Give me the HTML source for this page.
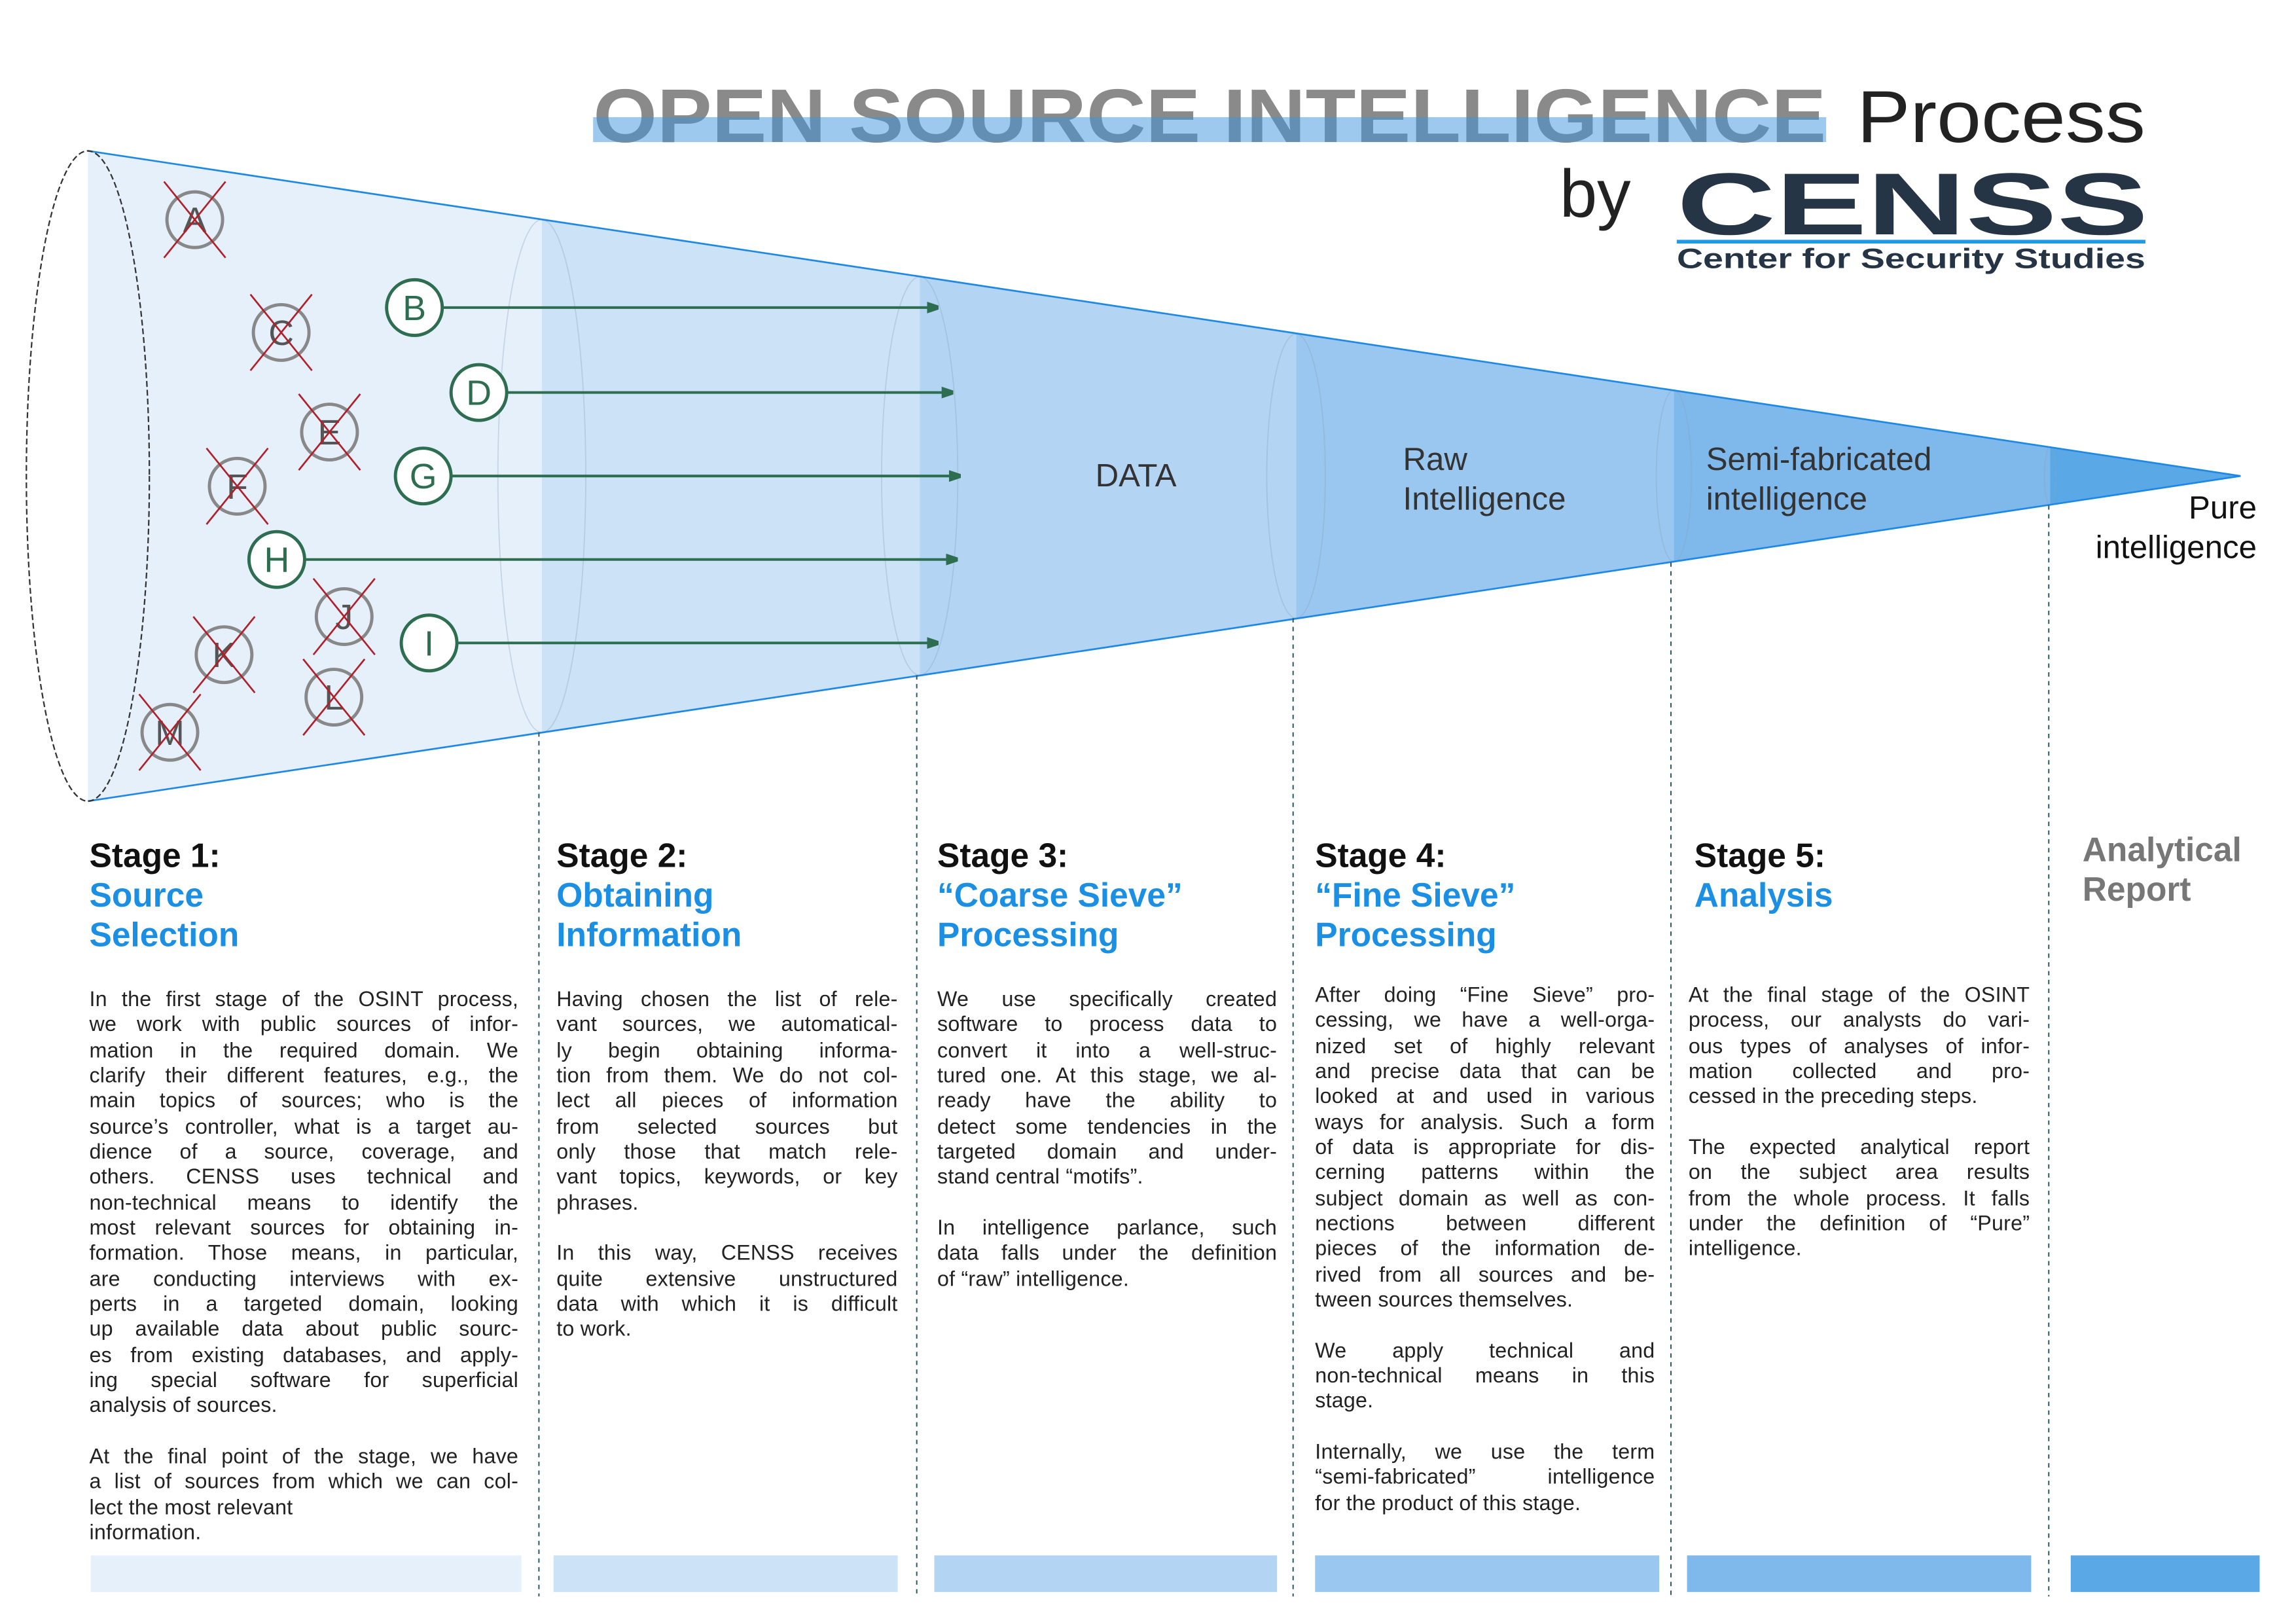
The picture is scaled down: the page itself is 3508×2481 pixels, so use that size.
<!DOCTYPE html>
<html><head><meta charset="utf-8"><style>
html,body{margin:0;padding:0;background:#fff;}
body{width:3508px;height:2480px;overflow:hidden;position:relative;}
.s{position:absolute;left:0;top:0;width:1568px;height:1109px;transform:scale(2.2375);transform-origin:0 0;}
svg{position:absolute;left:0;top:0;}
.col{position:absolute;font-family:"Liberation Sans",sans-serif;}
.h{font-weight:bold;font-size:23px;line-height:27px;color:#111;}
.h .b{color:#1a8fe3;}
.t{font-size:14.4px;line-height:17.33px;color:#222;letter-spacing:0.1px;}
.t div{white-space:nowrap;overflow:visible;}
.t .j{text-align:justify;text-align-last:justify;}
.gap{height:17.33px;}
.bar{position:absolute;top:1062px;height:25px;}
</style></head><body><div class="s">
<svg width="1560" height="1103" viewBox="0 0 1560 1103" xmlns="http://www.w3.org/2000/svg">
<defs><marker id="ar" markerWidth="8" markerHeight="8" refX="7" refY="4" orient="auto" markerUnits="userSpaceOnUse"><path d="M0,0 L12,4 L0,8 z" fill="#2e6e50"/></marker></defs>
<text x="405" y="97" font-family="Liberation Sans,sans-serif" font-weight="bold" font-size="52" fill="#8a8a8a" textLength="842" lengthAdjust="spacingAndGlyphs">OPEN SOURCE INTELLIGENCE</text>
<rect x="405" y="80" width="842" height="17" fill="#3d94e0" opacity="0.5"/>
<text x="1268" y="97" font-family="Liberation Sans,sans-serif" font-size="50" fill="#222" textLength="197" lengthAdjust="spacingAndGlyphs">Process</text>
<text x="1065" y="148" font-family="Liberation Sans,sans-serif" font-size="46" fill="#222">by</text>
<text x="1145" y="160" font-family="Liberation Sans,sans-serif" font-weight="bold" font-size="60" fill="#263545" textLength="322" lengthAdjust="spacingAndGlyphs">CENSS</text>
<line x1="1145" y1="165" x2="1465" y2="165" stroke="#1e9be8" stroke-width="2.5"/>
<text x="1145" y="183" font-family="Liberation Sans,sans-serif" font-weight="bold" font-size="19" fill="#263545" textLength="320" lengthAdjust="spacingAndGlyphs">Center for Security Studies</text>
<polygon points="60,103 370,150 370,500 60,547" fill="#e6f0fb"/>
<polygon points="370,150 628,189 628,461 370,500" fill="#cce2f6"/>
<polygon points="628,189 885,228 885,422 628,461" fill="#b3d4f2"/>
<polygon points="885,228 1143,266.5 1143,383.5 885,422" fill="#99c7ef"/>
<polygon points="1143,266.5 1400,305 1400,345 1143,383.5" fill="#7fb8ea"/>
<polygon points="1400,305 1530,325 1400,345" fill="#5aa8e6"/>
<g fill="none" stroke="#8aa4bc" stroke-opacity="0.35" stroke-width="0.8">
<ellipse cx="370" cy="325" rx="30" ry="175"/>
<ellipse cx="628" cy="325" rx="26" ry="136"/>
<ellipse cx="885" cy="325" rx="20" ry="97"/>
<ellipse cx="1143" cy="325" rx="12" ry="58.5"/>
<ellipse cx="1400" cy="325" rx="4" ry="20"/>
</g>
<line x1="60" y1="103" x2="1530" y2="325" stroke="#1e88e5" stroke-width="1.2"/>
<line x1="60" y1="547" x2="1530" y2="325" stroke="#1e88e5" stroke-width="1.2"/>
<ellipse cx="60" cy="325" rx="42" ry="222" fill="none" stroke="#333" stroke-width="1" stroke-dasharray="4,2"/>
<g stroke="#2a5a6a" stroke-width="0.9" stroke-dasharray="3,3">
<line x1="368" y1="500" x2="368" y2="1090"/>
<line x1="626" y1="461" x2="626" y2="1090"/>
<line x1="883" y1="422" x2="883" y2="1090"/>
<line x1="1141" y1="384" x2="1141" y2="1090"/>
<line x1="1399" y1="345" x2="1399" y2="1090"/>
</g>
<g font-family="Liberation Sans,sans-serif" font-size="22" fill="#333">
<text x="748" y="332">DATA</text>
<text x="958" y="321">Raw</text><text x="958" y="348">Intelligence</text>
<text x="1165" y="321">Semi-fabricated</text><text x="1165" y="348">intelligence</text>
<text x="1541" y="354" text-anchor="end" fill="#111">Pure</text><text x="1541" y="381" text-anchor="end" fill="#111">intelligence</text>
</g>
<g stroke="#2e6e50" stroke-width="1.8" marker-end="url(#ar)">
<line x1="302" y1="210" x2="640" y2="210"/>
<line x1="346" y1="268" x2="650" y2="268"/>
<line x1="308" y1="325" x2="655" y2="325"/>
<line x1="208" y1="382" x2="653" y2="382"/>
<line x1="312" y1="439" x2="640" y2="439"/>
</g>
<g font-family="Liberation Sans,sans-serif" font-size="24" text-anchor="middle">
<g fill="#fff" stroke="#2e6e50" stroke-width="2.2">
<circle cx="283" cy="210" r="19"/><circle cx="327" cy="268" r="19"/><circle cx="289" cy="325" r="19"/><circle cx="189" cy="382" r="19"/><circle cx="293" cy="439" r="19"/>
</g>
<g fill="#2e6e50">
<text x="283" y="218.5">B</text><text x="327" y="276.5">D</text><text x="289" y="333.5">G</text><text x="189" y="390.5">H</text><text x="293" y="447.5">I</text>
</g>
<g fill="none" stroke="#888" stroke-width="2.2">
<circle cx="133" cy="150" r="19"/><circle cx="192" cy="227" r="19"/><circle cx="225" cy="295" r="19"/><circle cx="162" cy="332" r="19"/><circle cx="235" cy="421" r="19"/><circle cx="153" cy="447" r="19"/><circle cx="228" cy="476" r="19"/><circle cx="116" cy="500" r="19"/>
</g>
<g fill="#555">
<text x="133" y="158.5">A</text><text x="192" y="235.5">C</text><text x="225" y="303.5">E</text><text x="162" y="340.5">F</text><text x="235" y="429.5">J</text><text x="153" y="455.5">K</text><text x="228" y="484.5">L</text><text x="116" y="508.5">M</text>
</g>
<g stroke="#b0202a" stroke-width="1.2">
<path d="M112,124 L154,176 M154,124 L112,176"/>
<path d="M171,201 L213,253 M213,201 L171,253"/>
<path d="M204,269 L246,321 M246,269 L204,321"/>
<path d="M141,306 L183,358 M183,306 L141,358"/>
<path d="M214,395 L256,447 M256,395 L214,447"/>
<path d="M132,421 L174,473 M174,421 L132,473"/>
<path d="M207,450 L249,502 M249,450 L207,502"/>
<path d="M95,474 L137,526 M137,474 L95,526"/>
</g>
</g>
</svg>

<div class="col h" style="left:61px;top:571px;">Stage 1:<br><span class="b">Source<br>Selection</span></div>
<div class="col h" style="left:380px;top:571px;">Stage 2:<br><span class="b">Obtaining<br>Information</span></div>
<div class="col h" style="left:640px;top:571px;">Stage 3:<br><span class="b">“Coarse Sieve”<br>Processing</span></div>
<div class="col h" style="left:898px;top:571px;">Stage 4:<br><span class="b">“Fine Sieve”<br>Processing</span></div>
<div class="col h" style="left:1157px;top:571px;">Stage 5:<br><span class="b">Analysis</span></div>
<div class="col h" style="left:1422px;top:567px;color:#777;">Analytical<br>Report</div>

<div class="col t" style="left:61px;top:675px;width:293px;">
<div class="j">In the first stage of the OSINT process,</div>
<div class="j">we work with public sources of infor-</div>
<div class="j">mation in the required domain. We</div>
<div class="j">clarify their different features, e.g., the</div>
<div class="j">main topics of sources; who is the</div>
<div class="j">source’s controller, what is a target au-</div>
<div class="j">dience of a source, coverage, and</div>
<div class="j">others. CENSS uses technical and</div>
<div class="j">non-technical means to identify the</div>
<div class="j">most relevant sources for obtaining in-</div>
<div class="j">formation. Those means, in particular,</div>
<div class="j">are conducting interviews with ex-</div>
<div class="j">perts in a targeted domain, looking</div>
<div class="j">up available data about public sourc-</div>
<div class="j">es from existing databases, and apply-</div>
<div class="j">ing special software for superficial</div>
<div>analysis of sources.</div>
<div class="gap"></div>
<div class="j">At the final point of the stage, we have</div>
<div class="j">a list of sources from which we can col-</div>
<div>lect the most relevant</div>
<div>information.</div>
</div>

<div class="col t" style="left:380px;top:675px;width:233px;">
<div class="j">Having chosen the list of rele-</div>
<div class="j">vant sources, we automatical-</div>
<div class="j">ly begin obtaining informa-</div>
<div class="j">tion from them. We do not col-</div>
<div class="j">lect all pieces of information</div>
<div class="j">from selected sources but</div>
<div class="j">only those that match rele-</div>
<div class="j">vant topics, keywords, or key</div>
<div>phrases.</div>
<div class="gap"></div>
<div class="j">In this way, CENSS receives</div>
<div class="j">quite extensive unstructured</div>
<div class="j">data with which it is difficult</div>
<div>to work.</div>
</div>

<div class="col t" style="left:640px;top:675px;width:232px;">
<div class="j">We use specifically created</div>
<div class="j">software to process data to</div>
<div class="j">convert it into a well-struc-</div>
<div class="j">tured one. At this stage, we al-</div>
<div class="j">ready have the ability to</div>
<div class="j">detect some tendencies in the</div>
<div class="j">targeted domain and under-</div>
<div>stand central “motifs”.</div>
<div class="gap"></div>
<div class="j">In intelligence parlance, such</div>
<div class="j">data falls under the definition</div>
<div>of “raw” intelligence.</div>
</div>

<div class="col t" style="left:898px;top:672px;width:232px;">
<div class="j">After doing “Fine Sieve” pro-</div>
<div class="j">cessing, we have a well-orga-</div>
<div class="j">nized set of highly relevant</div>
<div class="j">and precise data that can be</div>
<div class="j">looked at and used in various</div>
<div class="j">ways for analysis. Such a form</div>
<div class="j">of data is appropriate for dis-</div>
<div class="j">cerning patterns within the</div>
<div class="j">subject domain as well as con-</div>
<div class="j">nections between different</div>
<div class="j">pieces of the information de-</div>
<div class="j">rived from all sources and be-</div>
<div>tween sources themselves.</div>
<div class="gap"></div>
<div class="j">We apply technical and</div>
<div class="j">non-technical means in this</div>
<div>stage.</div>
<div class="gap"></div>
<div class="j">Internally, we use the term</div>
<div class="j">“semi-fabricated” intelligence</div>
<div>for the product of this stage.</div>
</div>

<div class="col t" style="left:1153px;top:672px;width:233px;">
<div class="j">At the final stage of the OSINT</div>
<div class="j">process, our analysts do vari-</div>
<div class="j">ous types of analyses of infor-</div>
<div class="j">mation collected and pro-</div>
<div>cessed in the preceding steps.</div>
<div class="gap"></div>
<div class="j">The expected analytical report</div>
<div class="j">on the subject area results</div>
<div class="j">from the whole process. It falls</div>
<div class="j">under the definition of “Pure”</div>
<div>intelligence.</div>
</div>

<div class="bar" style="left:62px;width:294px;background:#e6f0fb;"></div>
<div class="bar" style="left:378px;width:235px;background:#cce2f6;"></div>
<div class="bar" style="left:638px;width:234px;background:#b3d4f2;"></div>
<div class="bar" style="left:898px;width:235px;background:#99c7ef;"></div>
<div class="bar" style="left:1152px;width:235px;background:#7fb8ea;"></div>
<div class="bar" style="left:1414px;width:129px;background:#5aa8e6;"></div>
</div></body></html>
